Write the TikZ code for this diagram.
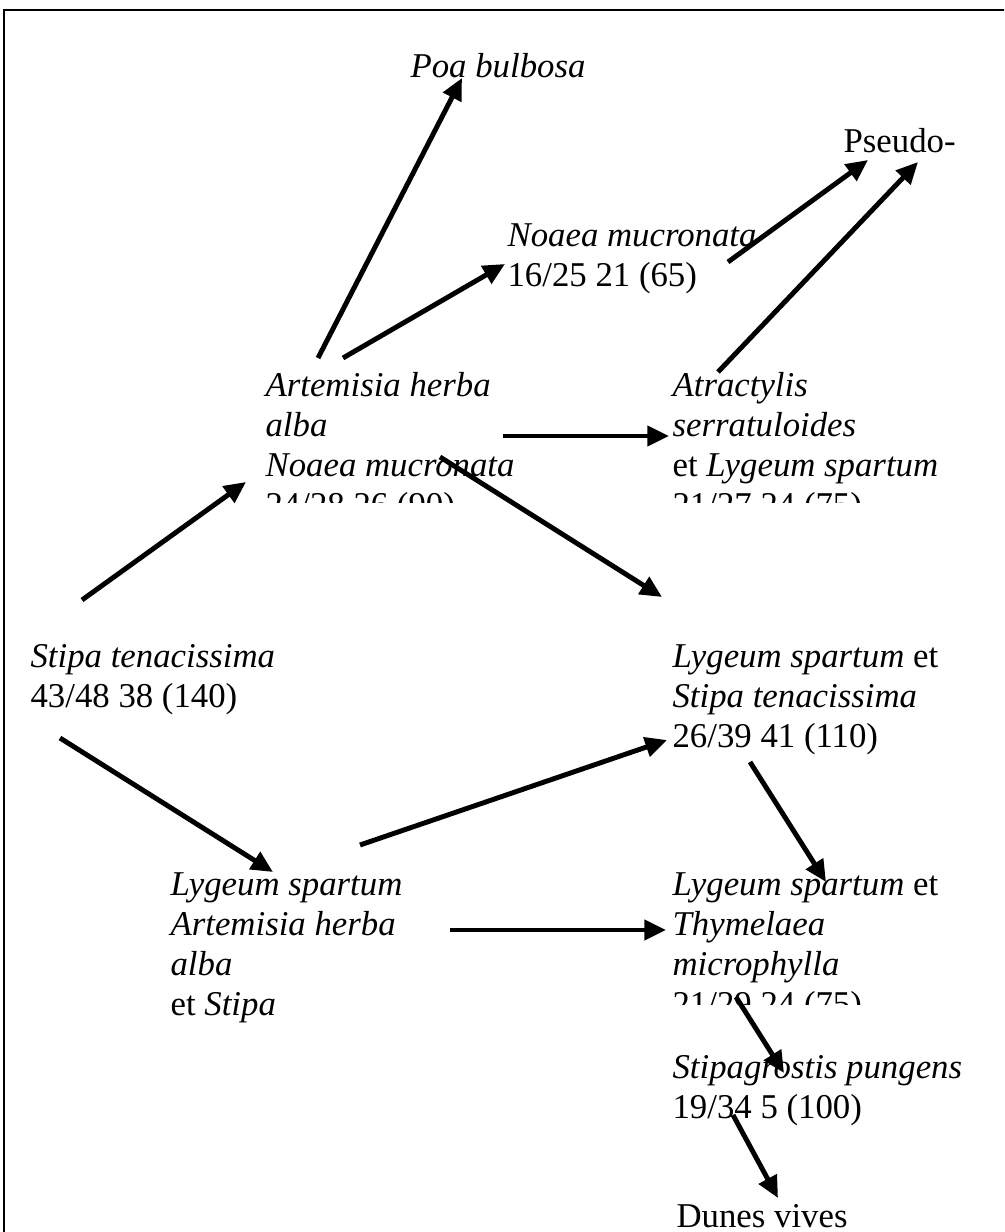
\documentclass[tikz,border=0pt]{standalone}
\usepackage{fontspec}
\setmainfont{Liberation Serif}
\usepackage{tikz}
\usetikzlibrary{arrows.meta}

\begin{document}
\begin{tikzpicture}[x=0.345pt,y=-0.345pt,
   lbl/.style={anchor=north west,inner sep=0pt,align=left,
              font=\fontsize{12}{13.8}\selectfont,execute at begin node=\strut},
   succ/.style={line width=1.7pt,-{Triangle[length=7.5pt,width=6.8pt]}},
]
\useasboundingbox (0,0) rectangle (1004,1232);
\clip (0,0) rectangle (1004,1232);
\draw[line width=0.5pt] (4,10) rectangle (1012,1245);

% stages, top to bottom
\node[lbl] (poa)    at (410,49)  {\textit{Poa bulbosa}};
\node[lbl] (pseudo) at (843,124) {Pseudo-};
\node[lbl] (noaea)  at (507,223) {\textit{Noaea mucronata}\\16/25 21 (65)};

\begin{scope}
\clip (250,350) rectangle (990,503);
\node[lbl] (artemisia)  at (265,372) {\textit{Artemisia herba}\\\textit{alba}\\\textit{Noaea mucronata}\\24/28 26 (90)};
\node[lbl] (atractylis) at (672,372) {\textit{Atractylis}\\\textit{serratuloides}\\et \textit{Lygeum spartum}\\21/27 24 (75)};
\end{scope}

\node[lbl] (stipa)    at (30,644)  {\textit{Stipa tenacissima}\\43/48 38 (140)};
\node[lbl] (lygstipa) at (672,644) {\textit{Lygeum spartum} et\\\textit{Stipa tenacissima}\\26/39 41 (110)};
\node[lbl] (lygart)   at (170,872) {\textit{Lygeum spartum}\\\textit{Artemisia herba}\\\textit{alba}\\et \textit{Stipa}};

\begin{scope}
\clip (660,850) rectangle (990,1004);
\node[lbl] (thymelaea) at (672,872) {\textit{Lygeum spartum} et\\\textit{Thymelaea}\\\textit{microphylla}\\21/29 24 (75)};
\end{scope}

\node[lbl] (stipagrostis) at (672,1055) {\textit{Stipagrostis pungens}\\19/34 5 (100)};
\node[lbl] (dunes)        at (676,1199) {Dunes vives};

% successions
\draw[succ] ([shift={(53,-14)}]artemisia.north west) -- ([shift={(52,29)}]poa.north west);
\draw[succ] ([shift={(78,-14)}]artemisia.north west) -- ([shift={(-2,41)}]noaea.north west);
\draw[succ] ([shift={(221,39)}]noaea.north west) -- ([shift={(25,36)}]pseudo.north west);
\draw[succ] ([shift={(46,0)}]atractylis.north west) -- ([shift={(75,38)}]pseudo.north west);
\draw[succ] ([shift={(238,64)}]artemisia.north west) -- ([shift={(-3,64)}]atractylis.north west);
\draw[succ] ([shift={(175,85)}]artemisia.north west) -- ([shift={(-10,-47)}]lygstipa.north west);
\draw[succ] ([shift={(52,-44)}]stipa.north west) -- ([shift={(-19,110)}]artemisia.north west);
\draw[succ] ([shift={(30,94)}]stipa.north west) -- ([shift={(103,0)}]lygart.north west);
\draw[succ] ([shift={(190,-27)}]lygart.north west) -- ([shift={(-5,96)}]lygstipa.north west);
\draw[succ] ([shift={(280,58)}]lygart.north west) -- ([shift={(-6,58)}]thymelaea.north west);
\draw[succ] ([shift={(78,118)}]lygstipa.north west) -- ([shift={(154,10)}]thymelaea.north west);
\draw[succ] ([shift={(64,125)}]thymelaea.north west) -- ([shift={(112,18)}]stipagrostis.north west);
\draw[succ] ([shift={(61,60)}]stipagrostis.north west) -- ([shift={(102,-1)}]dunes.north west);
\end{tikzpicture}
\end{document}
